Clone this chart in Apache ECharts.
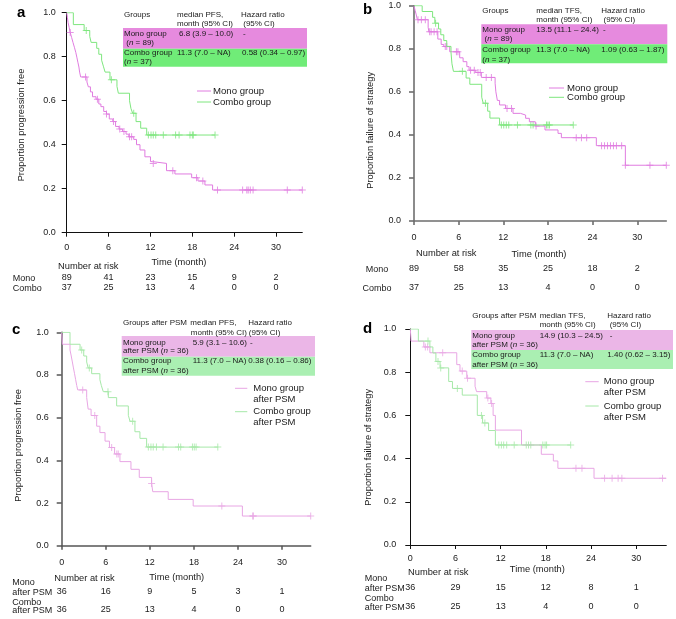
<!DOCTYPE html>
<html><head><meta charset="utf-8">
<script src="https://cdn.jsdelivr.net/npm/echarts@6/dist/echarts.min.js"></script>
<style>html,body{margin:0;padding:0;background:#fff}#c{width:676px;height:619px}</style>
</head><body><div id="c"></div>
<script>
const FONT = '"Liberation Sans", Arial, Helvetica, sans-serif';

const MONTH_TICKS = [0, 6, 12, 18, 24, 30];
const RISK_A_MONO = [89, 41, 23, 15, 9, 2];
const RISK_A_COMBO = [37, 25, 13, 4, 0, 0];
const RISK_B_MONO = [89, 58, 35, 25, 18, 2];
const RISK_B_COMBO = [37, 25, 13, 4, 0, 0];
const RISK_C_MONO = [36, 16, 9, 5, 3, 1];
const RISK_C_COMBO = [36, 25, 13, 4, 0, 0];
const RISK_D_MONO = [36, 29, 15, 12, 8, 1];
const RISK_D_COMBO = [36, 25, 13, 4, 0, 0];

// Kaplan-Meier steps: [time (month), proportion from this time on]; last entry = end of follow-up
const A_MONO = [[0,1],[0.1,0.978],[0.2,0.955],[0.35,0.933],[0.5,0.91],[0.7,0.888],[0.9,0.865],[1.1,0.843],[1.3,0.82],[1.45,0.798],[1.6,0.775],[1.75,0.753],[1.85,0.73],[2.0,0.708],[2.9,0.685],[3.1,0.663],[3.4,0.64],[3.7,0.618],[4.2,0.607],[4.6,0.585],[4.9,0.573],[5.3,0.551],[5.7,0.539],[6.1,0.517],[6.6,0.505],[7.0,0.483],[7.5,0.471],[8.0,0.46],[8.5,0.448],[8.9,0.436],[9.6,0.424],[10.0,0.4],[10.5,0.376],[11.2,0.345],[12.0,0.323],[12.3,0.315],[14.3,0.282],[15.5,0.267],[17.9,0.25],[18.8,0.235],[19.8,0.217],[20.9,0.194],[33.75,0.194]];
const A_MONO_CENS = [0.5,2.7,4.4,5.7,6.7,7.6,8.2,9.0,9.3,12.4,15.2,18.6,19.5,21.6,25.2,25.8,26.0,26.3,26.7,31.6,33.75];
const A_COMBO = [[0,1],[0.95,0.946],[2.5,0.919],[3.3,0.892],[3.5,0.865],[4.3,0.838],[4.6,0.811],[5.0,0.784],[5.25,0.757],[5.5,0.73],[6.2,0.695],[7.2,0.665],[7.4,0.634],[9.0,0.6],[9.2,0.565],[9.45,0.543],[9.93,0.505],[10.6,0.475],[11.46,0.444],[21.25,0.444]];
const A_COMBO_CENS = [2.8,6.4,9.6,11.7,12.08,12.4,12.75,13.84,15.6,16.1,17.66,18.0,18.14,21.25];

const B_MONO = [[0,1],[0.15,0.978],[0.31,0.957],[0.45,0.935],[1.9,0.9],[2.0,0.879],[3.2,0.845],[3.65,0.82],[4.0,0.81],[4.8,0.786],[6.14,0.758],[6.6,0.74],[7.1,0.717],[7.4,0.7],[8.3,0.69],[9.05,0.667],[10.9,0.64],[11.0,0.6],[11.2,0.56],[11.5,0.539],[12.3,0.523],[13.3,0.5],[14.3,0.492],[15.0,0.477],[15.5,0.461],[16.3,0.441],[17.6,0.423],[19.35,0.407],[19.8,0.387],[24.5,0.35],[28.4,0.259],[33.9,0.259]];
const B_MONO_CENS = [0.54,0.99,1.52,2.1,2.3,2.7,3.1,4.2,4.4,5.7,5.9,7.6,8.1,8.6,8.9,9.7,10.4,12.5,13.1,16.4,21.8,22.5,23.2,25.2,25.6,26.0,26.4,26.8,27.2,27.9,28.4,31.7,33.9];
const B_COMBO = [[0,1],[1.1,0.973],[2.5,0.946],[2.8,0.919],[3.3,0.892],[3.6,0.865],[4.0,0.838],[4.4,0.811],[4.97,0.784],[5.1,0.73],[5.3,0.695],[7.0,0.664],[7.5,0.635],[9.1,0.575],[9.3,0.547],[9.9,0.51],[10.2,0.478],[11.5,0.446],[21.4,0.446]];
const B_COMBO_CENS = [2.9,6.5,9.6,11.74,12.06,12.4,12.73,13.9,15.7,16.0,17.8,18.0,18.2,21.4];

const C_MONO = [[0,1],[0.1,0.944],[1.13,0.917],[1.3,0.889],[1.45,0.861],[1.6,0.833],[1.75,0.806],[1.9,0.778],[2.05,0.75],[2.18,0.73],[3.4,0.694],[3.6,0.64],[4.0,0.61],[4.76,0.56],[5.2,0.53],[5.9,0.49],[6.5,0.46],[7.2,0.43],[7.93,0.394],[9.43,0.358],[10.56,0.32],[12.24,0.292],[12.4,0.253],[14.5,0.217],[17.9,0.186],[24.6,0.139],[33.9,0.139]];
const C_MONO_CENS = [2.86,4.5,6.8,7.5,7.7,12.24,21.8,26.0,26.1,33.9];
const C_COMBO = [[0,1],[1.13,0.944],[2.5,0.917],[3.0,0.889],[3.4,0.861],[3.6,0.833],[4.08,0.806],[5.2,0.778],[5.4,0.75],[5.66,0.722],[6.35,0.694],[7.48,0.655],[9.07,0.611],[9.3,0.583],[9.97,0.534],[10.65,0.503],[11.56,0.462],[21.3,0.462]];
const C_COMBO_CENS = [2.72,3.76,6.3,9.66,11.8,12.15,12.46,12.9,13.8,15.9,16.2,17.8,18.05,18.3,21.25];

const D_MONO = [[0,1],[0.11,0.944],[1.8,0.917],[2.6,0.89],[6.17,0.835],[6.6,0.805],[7.5,0.772],[8.6,0.735],[8.8,0.71],[10.15,0.68],[10.7,0.655],[11.0,0.6],[11.3,0.532],[14.77,0.463],[17.4,0.42],[19.0,0.389],[19.6,0.355],[24.4,0.309],[34.0,0.309]];
const D_MONO_CENS = [2.0,2.3,4.3,6.9,7.6,10.3,10.8,22.0,22.8,25.8,26.8,27.6,28.1,33.5];
const D_COMBO = [[0,1],[1.07,0.944],[2.6,0.917],[3.0,0.889],[3.4,0.85],[3.95,0.82],[5.1,0.757],[5.6,0.725],[6.9,0.694],[8.9,0.6],[9.6,0.565],[10.4,0.53],[11.3,0.463],[21.3,0.463]];
const D_COMBO_CENS = [2.35,3.68,4.04,6.25,9.45,9.9,11.75,12.1,12.4,12.8,13.8,15.4,15.7,16.0,17.6,17.9,18.1,21.3];

function survAt(steps, t) {
  let v = steps[0][1];
  for (const [ti, vi] of steps) { if (ti <= t + 1e-9) v = vi; else break; }
  return v;
}

const PLUS = 'path://M3,0H4V3H7V4H4V7H3V4H0V3H3Z';

const PANELS = [
  { grid: {left: 66.7, top: 12.7, width: 235.6, height: 220}, xmax: 33.75, axisColor: '#111', axisWidth: 1,
    yMargin: 11, xMargin: 10.5, riskOff: [40.8, 50.5], mono: A_MONO, combo: A_COMBO, monoC: A_MONO_CENS, comboC: A_COMBO_CENS,
    rm: RISK_A_MONO, rc: RISK_A_COMBO, colors: ['#e07ce0', '#7ee67e'] },
  { grid: {left: 414, top: 5.7, width: 252.3, height: 215.3}, xmax: 33.9, axisColor: '#6e6e6e', axisWidth: 1.6,
    yMargin: 13, xMargin: 12.2, riskOff: [43.5, 61.8], mono: B_MONO, combo: B_COMBO, monoC: B_MONO_CENS, comboC: B_COMBO_CENS,
    rm: RISK_B_MONO, rc: RISK_B_COMBO, colors: ['#e07ce0', '#7ee67e'] },
  { grid: {left: 61.7, top: 332.3, width: 249, height: 213.4}, xmax: 33.9, axisColor: '#555', axisWidth: 1.5,
    yMargin: 13, xMargin: 12.1, riskOff: [41.5, 59.5], mono: C_MONO, combo: C_COMBO, monoC: C_MONO_CENS, comboC: C_COMBO_CENS,
    rm: RISK_C_MONO, rc: RISK_C_COMBO, colors: ['#e8a6e4', '#a6e8a8'] },
  { grid: {left: 410.3, top: 329, width: 256, height: 216}, xmax: 34.0, axisColor: '#111', axisWidth: 1,
    yMargin: 14, xMargin: 8.8, riskOff: [37.8, 57.2], mono: D_MONO, combo: D_COMBO, monoC: D_MONO_CENS, comboC: D_COMBO_CENS,
    rm: RISK_D_MONO, rc: RISK_D_COMBO, colors: ['#e8a6e4', '#a6e8a8'] }
];

const grids = [], xAxes = [], yAxes = [], series = [];
PANELS.forEach((p, i) => {
  grids.push(Object.assign({containLabel: false}, p.grid));
  xAxes.push({
    type: 'value', gridIndex: i, min: 0, max: p.xmax, interval: 6, position: 'bottom',
    axisLine: {show: true, onZero: false, lineStyle: {color: p.axisColor, width: p.axisWidth}},
    axisTick: {show: true, length: 4, customValues: MONTH_TICKS, lineStyle: {color: p.axisColor, width: p.axisWidth}},
    axisLabel: {customValues: MONTH_TICKS, fontSize: 9, color: '#1a1a1a', margin: p.xMargin, fontFamily: FONT},
    splitLine: {show: false}
  });
  [p.rm, p.rc].forEach((risk, k) => {
    xAxes.push({
      type: 'value', gridIndex: i, min: 0, max: p.xmax, interval: 6, position: 'bottom', offset: p.riskOff[k],
      axisLine: {show: false}, axisTick: {show: false}, splitLine: {show: false},
      axisLabel: {customValues: MONTH_TICKS, fontSize: 9, color: '#1a1a1a', margin: 0, fontFamily: FONT,
        formatter: v => { const j = MONTH_TICKS.indexOf(v); return j >= 0 ? String(risk[j]) : ''; }}
    });
  });
  yAxes.push({
    type: 'value', gridIndex: i, min: 0, max: 1, interval: 0.2,
    axisLine: {show: true, onZero: false, lineStyle: {color: p.axisColor, width: p.axisWidth}},
    axisTick: {show: true, length: 5, lineStyle: {color: p.axisColor, width: p.axisWidth}},
    axisLabel: {fontSize: 9, color: '#1a1a1a', margin: p.yMargin, fontFamily: FONT, formatter: v => v.toFixed(1)},
    splitLine: {show: false}
  });
  const xi = i * 3;
  [[p.mono, p.monoC, p.colors[0]], [p.combo, p.comboC, p.colors[1]]].forEach(([steps, cens, col]) => {
    series.push({type: 'line', xAxisIndex: xi, yAxisIndex: i, step: 'end', symbol: 'none', silent: true,
      lineStyle: {color: col, width: 1}, data: steps});
    series.push({type: 'scatter', xAxisIndex: xi, yAxisIndex: i, symbol: PLUS, symbolSize: 7, silent: true,
      itemStyle: {color: col}, data: cens.map(t => [t, survAt(steps, t)])});
  });
});

function T(x, y, text, o = {}) {
  const size = o.size || 9;
  const al = o.align || 'left';
  const style = {
    text, x: 0, y: 0, fill: o.color || '#1a1a1a', fontSize: size, fontFamily: FONT,
    fontWeight: o.bold ? 'bold' : 'normal', align: al, verticalAlign: 'middle',
    textAlign: al, textVerticalAlign: 'middle'
  };
  if (o.rich) style.rich = o.rich;
  return {type: 'text', x, y, rotation: o.rot || 0, silent: true, style};
}
const RICH8 = {i: {fontStyle: 'italic', fontSize: 8, fontFamily: FONT, fill: '#1a1a1a', color: '#1a1a1a'}};
function R(x, y, w, h, fill) { return {type: 'rect', silent: true, shape: {x, y, width: w, height: h}, style: {fill}}; }
function L(x1, x2, y, col) { return {type: 'line', silent: true, shape: {x1, y1: y, x2, y2: y}, style: {stroke: col, lineWidth: 1}}; }
const S8 = {size: 8};
const S8N = {size: 8, rich: RICH8};

const els = [];
// Panel letters
els.push(T(17, 12.7, 'a', {size: 15, bold: true, color: '#000'}));
els.push(T(363, 10, 'b', {size: 15, bold: true, color: '#000'}));
els.push(T(12, 330, 'c', {size: 15, bold: true, color: '#000'}));
els.push(T(363, 328.4, 'd', {size: 15, bold: true, color: '#000'}));

// Panel a
els.push(R(123, 28, 184, 20.7, '#e68ade'), R(123, 48.7, 184, 18, '#70ec78'));
els.push(T(124, 15, 'Groups', S8), T(177, 15, 'median PFS,', S8), T(177, 24, 'month (95% CI)', S8),
  T(241, 15, 'Hazard ratio', S8), T(241, 24, ' (95% CI)', S8),
  T(124, 34, 'Mono group', S8), T(124, 43, ' ({i|n} = 89)', S8N), T(179, 34, '6.8 (3.9 – 10.0)', S8), T(243, 34, '-', S8),
  T(124, 53, 'Combo group', S8), T(124, 62, '({i|n} = 37)', S8N), T(177, 53, '11.3 (7.0 – NA)', S8), T(242, 53, '0.58 (0.34 – 0.97)', S8));
els.push(L(197, 211, 91, PANELS[0].colors[0]), L(197, 211, 102, PANELS[0].colors[1]),
  T(213, 91, 'Mono group', {size: 9.6}), T(213, 102, 'Combo group', {size: 9.6}));
els.push(T(179, 262.7, 'Time (month)', {size: 9.3, align: 'center'}), T(58, 266, 'Number at risk', {size: 9.3}),
  T(12.7, 279, 'Mono'), T(12.7, 288.7, 'Combo'),
  T(21, 125, 'Proportion progression free', {size: 9.3, align: 'center', rot: Math.PI / 2}));

// Panel b
els.push(R(481.3, 24.3, 186, 20, '#e68ade'), R(481.3, 44.3, 186, 19, '#70ec78'));
els.push(T(482.3, 11, 'Groups', S8), T(536.3, 11, 'median TFS,', S8), T(536.3, 19.3, 'month (95% CI)', S8),
  T(601.3, 11, 'Hazard ratio', S8), T(601.3, 19.3, ' (95% CI)', S8),
  T(482.3, 30, 'Mono group', S8), T(482.3, 39, ' ({i|n} = 89)', S8N), T(536.3, 30, '13.5 (11.1 – 24.4)', S8), T(603, 30, '-', S8),
  T(482.3, 49.7, 'Combo group', S8), T(482.3, 59.3, '({i|n} = 37)', S8N), T(536.3, 49.7, '11.3 (7.0 – NA)', S8), T(601.3, 49.7, '1.09 (0.63 – 1.87)', S8));
els.push(L(549, 564, 88, PANELS[1].colors[0]), L(549, 564, 97.3, PANELS[1].colors[1]),
  T(567, 88, 'Mono group', {size: 9.6}), T(567, 97.3, 'Combo group', {size: 9.6}));
els.push(T(539, 254.7, 'Time (month)', {size: 9.3, align: 'center'}), T(416, 253.3, 'Number at risk', {size: 9.3}),
  T(377, 270, 'Mono', {align: 'center'}), T(377, 288.3, 'Combo', {align: 'center'}),
  T(370.7, 130.3, 'Proportion failure of strategy', {size: 9.3, align: 'center', rot: Math.PI / 2}));

// Panel c
els.push(R(121.7, 336, 193.3, 20.7, '#ebb6e7'), R(121.7, 356.7, 193.3, 19, '#aaefb2'));
els.push(T(123, 322.7, 'Groups after PSM', S8), T(190.3, 322.7, 'median PFS,', S8), T(190.8, 332.3, 'month (95% CI)', S8),
  T(248.3, 322.7, 'Hazard ratio', S8), T(248.8, 332.3, '(95% CI)', S8),
  T(123, 342.3, 'Mono group', S8), T(123, 351, 'after PSM ({i|n} = 36)', S8N), T(192.7, 342.3, '5.9 (3.1 – 10.6)', S8), T(250, 342.3, '-', S8),
  T(123, 361, 'Combo group', S8), T(123, 370.7, 'after PSM ({i|n} = 36)', S8N), T(192.7, 361, '11.3 (7.0 – NA)', S8), T(248.3, 361, '0.38 (0.16 – 0.86)', S8));
els.push(L(235, 247.3, 388.3, PANELS[2].colors[0]), L(235, 247.3, 411.7, PANELS[2].colors[1]),
  T(253.3, 388.3, 'Mono group', {size: 9.5}), T(253.3, 399.3, 'after PSM', {size: 9.5}),
  T(253.3, 411.7, 'Combo group', {size: 9.5}), T(253.3, 422.7, 'after PSM', {size: 9.5}));
els.push(T(176.7, 577.7, 'Time (month)', {size: 9.3, align: 'center'}), T(54.3, 578.3, 'Number at risk', {size: 9.3}),
  T(12.3, 582.7, 'Mono'), T(12.3, 592.7, 'after PSM'), T(12.3, 602.7, 'Combo'), T(12.3, 610.7, 'after PSM'),
  T(18.8, 445.3, 'Proportion progression free', {size: 9.3, align: 'center', rot: Math.PI / 2}));

// Panel d
els.push(R(471.3, 330, 201.7, 20, '#ebb6e7'), R(471.3, 350, 201.7, 19, '#aaefb2'));
els.push(T(472.3, 316, 'Groups after PSM', S8), T(539.7, 316, 'median TFS,', S8), T(539.7, 325, 'month (95% CI)', S8),
  T(607.3, 316, 'Hazard ratio', S8), T(609.7, 325, '(95% CI)', S8),
  T(472.3, 335.3, 'Mono group', S8), T(472.3, 345, 'after PSM ({i|n} = 36)', S8N), T(539.7, 335.3, '14.9 (10.3 – 24.5)', S8), T(609.7, 335.3, '-', S8),
  T(472.3, 354.3, 'Combo group', S8), T(472.3, 364.3, 'after PSM ({i|n} = 36)', S8N), T(539.7, 354.3, '11.3 (7.0 – NA)', S8), T(607.3, 354.3, '1.40 (0.62 – 3.15)', S8));
els.push(L(585.3, 598.7, 381.7, PANELS[3].colors[0]), L(585.3, 598.7, 406, PANELS[3].colors[1]),
  T(603.7, 381.7, 'Mono group', {size: 9.5}), T(603.7, 392.7, 'after PSM', {size: 9.5}),
  T(603.7, 406, 'Combo group', {size: 9.5}), T(603.7, 417.3, 'after PSM', {size: 9.5}));
els.push(T(537.3, 569.3, 'Time (month)', {size: 9.3, align: 'center'}), T(408, 572.3, 'Number at risk', {size: 9.3}),
  T(364.7, 578.7, 'Mono'), T(364.7, 588.3, 'after PSM'), T(364.7, 598.3, 'Combo'), T(364.7, 607.7, 'after PSM'),
  T(368.8, 447.3, 'Proportion failure of strategy', {size: 9.3, align: 'center', rot: Math.PI / 2}));

const chart = echarts.init(document.getElementById('c'), null, {renderer: 'canvas'});
chart.setOption({
  animation: false,
  backgroundColor: '#fff',
  textStyle: {fontFamily: FONT},
  grid: grids, xAxis: xAxes, yAxis: yAxes, series,
  graphic: {elements: els}
});
</script></body></html>
